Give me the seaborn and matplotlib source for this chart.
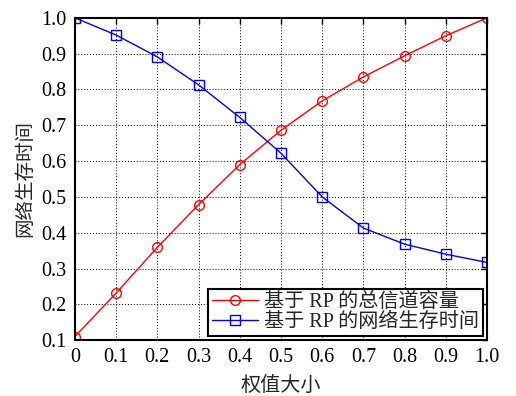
import matplotlib
matplotlib.use("Agg")
import matplotlib.pyplot as plt
import seaborn as sns
import pandas as pd

weights = [0, 0.1, 0.2, 0.3, 0.4, 0.5, 0.6, 0.7, 0.8, 0.9, 1.0]
capacity = [0.11, 0.231, 0.359, 0.478, 0.59, 0.686, 0.768, 0.835, 0.894, 0.95, 1.0]
lifetime = [1.0, 0.952, 0.891, 0.813, 0.722, 0.622, 0.50, 0.413, 0.368, 0.34, 0.317]
label_cap = "基于 RP 的总信道容量"
label_life = "基于 RP 的网络生存时间"
xlabel = "权值大小"
ylabel = "网络生存时间"
xticks = [0, 0.1, 0.2, 0.3, 0.4, 0.5, 0.6, 0.7, 0.8, 0.9, 1.0]
xticklabels = ["0", "0.1", "0.2", "0.3", "0.4", "0.5", "0.6", "0.7", "0.8", "0.9", "1.0"]
yticks = [0.1, 0.2, 0.3, 0.4, 0.5, 0.6, 0.7, 0.8, 0.9, 1.0]

sns.set_style("white")
plt.rcParams['font.family'] = ['Liberation Serif', 'Noto Sans CJK SC', 'DejaVu Sans']

df_cap = pd.DataFrame({"w": weights, "v": capacity})
df_life = pd.DataFrame({"w": weights, "v": lifetime})

fig = plt.figure(figsize=(5.16, 3.96), dpi=100)
ax = fig.add_axes([0.145, 0.141, 0.799, 0.814])

sns.lineplot(data=df_cap, x="w", y="v", ax=ax, color="red", marker="o",
             markersize=7, markerfacecolor="none", markeredgecolor="red",
             markeredgewidth=1.0, linewidth=1.0, label=label_cap)
sns.lineplot(data=df_life, x="w", y="v", ax=ax, color="blue", marker="s",
             markersize=7, markerfacecolor="none", markeredgecolor="blue",
             markeredgewidth=1.0, linewidth=1.0, label=label_life)

ax.set_xlim(0, 1.0)
ax.set_ylim(0.1, 1.0)
ax.set_xticks(xticks)
ax.set_xticklabels(xticklabels)
ax.set_yticks(yticks)
ax.set_yticklabels([f"{t:.1f}" for t in yticks])
ax.grid(True, color="black", linestyle=(0, (1, 2)), linewidth=0.7)
ax.tick_params(direction="in", top=True, right=True, length=4, width=1,
               labelsize=14.5, colors="black", pad=6)
for s in ax.spines.values():
    s.set_linewidth(1.5)
    s.set_color("black")
ax.set_xlabel(xlabel, fontsize=14.5, family=['Noto Sans CJK SC'], labelpad=5)
ax.set_ylabel(ylabel, fontsize=14, family=['Noto Sans CJK SC'], labelpad=4)

leg = ax.legend(loc="lower right", fontsize=14.5, frameon=True, fancybox=False,
                edgecolor="black", framealpha=1, borderpad=0.2,
                handlelength=2.3, handletextpad=0.3, labelspacing=0.05,
                borderaxespad=0.2)
leg.get_frame().set_linewidth(1.5)
for t in leg.get_texts():
    t.set_family(['Liberation Serif', 'Noto Sans CJK SC'])

fig.savefig("out.png", dpi=100)
